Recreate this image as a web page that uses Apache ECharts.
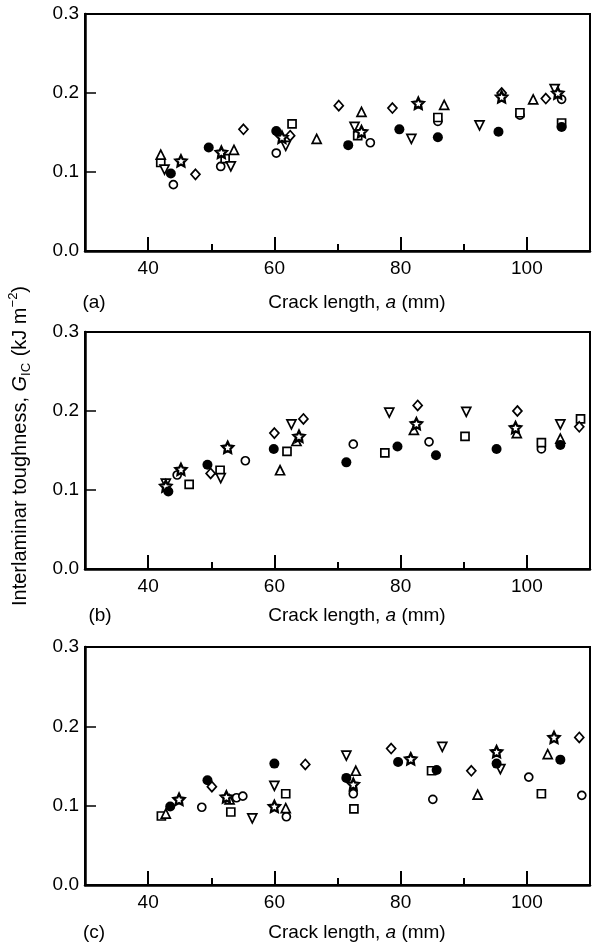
<!DOCTYPE html>
<html>
<head>
<meta charset="utf-8">
<script src="https://cdn.jsdelivr.net/npm/echarts@6/dist/echarts.min.js"></script>
<style>
html,body{margin:0;padding:0;background:#fff;}
#chart{width:592px;height:947px;}
</style>
</head>
<body>
<div id="chart"></div>
<script>
// ---- tick values ----
const xTicks = [40, 60, 80, 100];
const xMinorTicks = [50, 70, 90];
const yTicks = [0, 0.1, 0.2, 0.3];

// ---- panel (a) ----
const aFilledCircle = [[43.6,0.098],[49.6,0.131],[60.3,0.152],[71.7,0.134],[79.8,0.154],[85.9,0.144],[95.5,0.151],[105.5,0.157]];
const aOpenCircle = [[44.0,0.084],[51.5,0.107],[60.3,0.124],[75.2,0.137],[85.9,0.164],[98.9,0.172],[105.5,0.192]];
const aSquare = [[42.0,0.112],[52.2,0.117],[62.8,0.161],[73.2,0.146],[85.9,0.169],[98.9,0.175],[105.5,0.162]];
const aTriangle = [[42.0,0.122],[53.6,0.128],[66.7,0.142],[73.8,0.176],[86.9,0.185],[101.0,0.192]];
const aInvTriangle = [[42.6,0.103],[53.1,0.107],[61.8,0.133],[72.7,0.157],[81.7,0.142],[92.5,0.159],[104.4,0.205]];
const aDiamond = [[47.5,0.097],[55.1,0.154],[62.5,0.146],[70.2,0.184],[78.7,0.181],[96.0,0.200],[103.0,0.193]];
const aStar = [[45.2,0.114],[51.6,0.125],[61.2,0.144],[73.8,0.151],[82.8,0.187],[96.0,0.195],[104.9,0.200]];

// ---- panel (b) ----
const bFilledCircle = [[43.2,0.098],[49.4,0.132],[59.9,0.152],[71.4,0.135],[79.5,0.155],[85.6,0.144],[95.2,0.152],[105.3,0.157]];
const bOpenCircle = [[44.6,0.119],[55.4,0.137],[72.5,0.158],[84.5,0.161],[102.3,0.152]];
const bSquare = [[46.5,0.107],[51.4,0.125],[62.0,0.149],[77.5,0.147],[90.2,0.168],[102.3,0.160],[108.5,0.190]];
const bTriangle = [[60.9,0.125],[63.5,0.162],[82.1,0.176],[98.4,0.172],[105.3,0.165]];
const bInvTriangle = [[42.8,0.108],[51.5,0.115],[62.7,0.183],[78.2,0.198],[90.4,0.199],[105.3,0.183]];
const bDiamond = [[49.9,0.121],[60.0,0.172],[64.6,0.190],[82.7,0.207],[98.5,0.200],[108.3,0.180]];
const bStar = [[42.8,0.105],[45.2,0.126],[52.6,0.154],[63.9,0.168],[82.5,0.184],[98.2,0.179]];

// ---- panel (c) ----
const cFilledCircle = [[43.5,0.099],[49.4,0.132],[60.0,0.153],[71.4,0.135],[79.6,0.155],[85.7,0.145],[95.2,0.153],[105.3,0.158]];
const cOpenCircle = [[48.5,0.098],[54.0,0.110],[55.0,0.112],[61.9,0.086],[72.5,0.115],[85.1,0.108],[100.3,0.136],[108.7,0.113]];
const cSquare = [[42.1,0.087],[53.1,0.092],[61.8,0.115],[72.6,0.096],[84.9,0.144],[102.3,0.115]];
const cTriangle = [[42.8,0.090],[52.9,0.108],[61.8,0.097],[72.9,0.144],[92.2,0.114],[103.3,0.165]];
const cInvTriangle = [[56.5,0.084],[60.0,0.125],[71.4,0.163],[86.6,0.174],[95.8,0.146]];
const cDiamond = [[50.1,0.124],[64.9,0.152],[78.5,0.172],[91.2,0.144],[108.3,0.186]];
const cStar = [[44.9,0.108],[52.4,0.111],[60.0,0.099],[72.5,0.127],[81.6,0.159],[95.2,0.168],[104.3,0.186]];

const panelLabels = ['(a)', '(b)', '(c)'];
const xTitle = 'Crack length, ';

const FONT = '"Liberation Sans", Arial, Helvetica, sans-serif';
const STAR = 'path://M0,-10L2.94,-4.05L9.51,-3.09L4.76,1.55L5.88,8.09L0,5L-5.88,8.09L-4.76,1.55L-9.51,-3.09L-2.94,-4.05Z';

const styles = {
  openCircle: {symbol: 'circle', size: 8, fill: '#fff', bw: 1.7},
  square: {symbol: 'rect', size: 8, fill: '#fff', bw: 1.7},
  triangle: {symbol: 'triangle', size: 9, fill: '#fff', bw: 1.7},
  invTriangle: {symbol: 'triangle', size: 9, fill: '#fff', rotate: 180, bw: 1.7},
  diamond: {symbol: 'diamond', size: [9, 10], fill: '#fff', bw: 1.7},
  star: {symbol: STAR, size: 11, fill: '#fff', bw: 2.3},
  filledCircle: {symbol: 'circle', size: 10, fill: '#000', bw: 0}
};

const panels = [
  {openCircle: aOpenCircle, square: aSquare, triangle: aTriangle, invTriangle: aInvTriangle, diamond: aDiamond, star: aStar, filledCircle: aFilledCircle},
  {openCircle: bOpenCircle, square: bSquare, triangle: bTriangle, invTriangle: bInvTriangle, diamond: bDiamond, star: bStar, filledCircle: bFilledCircle},
  {openCircle: cOpenCircle, square: cSquare, triangle: cTriangle, invTriangle: cInvTriangle, diamond: cDiamond, star: cStar, filledCircle: cFilledCircle}
];

const gridTops = [14, 332, 647];
const gridHeights = [237, 237, 238];
const titleYs = [303, 616, 933];
const labelXs = [94, 100, 94];

const grids = [], xAxes = [], yAxes = [], series = [], graphics = [];
panels.forEach((p, i) => {
  grids.push({left: 85, width: 505, top: gridTops[i], height: gridHeights[i],
    show: true, borderColor: '#000', borderWidth: 2, backgroundColor: 'transparent'});
  xAxes.push({
    type: 'value', gridIndex: i, min: 30, max: 110, position: 'bottom',
    axisLine: {show: true, lineStyle: {color: '#000', width: 2.5}},
    axisTick: {show: true, inside: true, length: 14, customValues: xTicks, lineStyle: {color: '#000', width: 2}},
    axisLabel: {show: true, customValues: xTicks, margin: 8, color: '#000', fontSize: 19, fontFamily: FONT},
    splitLine: {show: false}
  });
  xAxes.push({
    type: 'value', gridIndex: i, min: 30, max: 110, position: 'bottom',
    axisLine: {show: false},
    axisTick: {show: true, inside: true, length: 7, customValues: xMinorTicks, lineStyle: {color: '#000', width: 2}},
    axisLabel: {show: false},
    splitLine: {show: false}
  });
  yAxes.push({
    type: 'value', gridIndex: i, min: 0, max: 0.3, interval: 0.1,
    axisLine: {show: true, lineStyle: {color: '#000', width: 2.5}},
    axisTick: {show: true, inside: true, length: 11, customValues: yTicks, lineStyle: {color: '#000', width: 1.5}},
    axisLabel: {show: true, customValues: yTicks, margin: 6, color: '#000', fontSize: 19, fontFamily: FONT,
      formatter: v => Number(v).toFixed(1)},
    splitLine: {show: false}
  });
  Object.keys(styles).forEach(k => {
    const s = styles[k];
    series.push({
      type: 'scatter', xAxisIndex: i * 2, yAxisIndex: i,
      data: p[k], symbol: s.symbol, symbolSize: s.size, symbolRotate: s.rotate || 0,
      itemStyle: {color: s.fill, borderColor: '#000', borderWidth: s.bw, opacity: 1},
      emphasis: {disabled: true},
      animation: false, silent: true
    });
  });
  graphics.push({
    type: 'text', x: labelXs[i], y: titleYs[i],
    style: {text: panelLabels[i], font: '19px ' + FONT, fill: '#000', textAlign: 'center', textVerticalAlign: 'middle'}
  });
  graphics.push({
    type: 'text', x: 357, y: titleYs[i],
    style: {text: xTitle + '{i|a} (mm)', fill: '#000', textAlign: 'center', textVerticalAlign: 'middle',
      fontSize: 19, fontFamily: FONT,
      rich: {i: {fontStyle: 'italic', fontSize: 19, fontFamily: FONT, fill: '#000'}}}
  });
});

graphics.push({
  type: 'text', x: 20, y: 446, rotation: Math.PI / 2,
  style: {
    text: 'Interlaminar toughness, {g|G}{sub|IC} (kJ m{sup|−2})',
    fill: '#000', fontSize: 20, fontFamily: FONT, textAlign: 'center', textVerticalAlign: 'middle',
    lineHeight: 26,
    rich: {
      g: {fontStyle: 'italic', fontSize: 20, fontFamily: FONT, lineHeight: 26, verticalAlign: 'middle'},
      sub: {fontSize: 13, fontFamily: FONT, lineHeight: 26, verticalAlign: 'bottom', padding: [0, 1, 0, 0]},
      sup: {fontSize: 13, fontFamily: FONT, lineHeight: 26, verticalAlign: 'top'}
    }
  }
});

const chart = echarts.init(document.getElementById('chart'), null, {renderer: 'canvas'});
chart.setOption({
  animation: false,
  backgroundColor: '#fff',
  grid: grids, xAxis: xAxes, yAxis: yAxes, series: series, graphic: graphics
});
</script>
</body>
</html>
